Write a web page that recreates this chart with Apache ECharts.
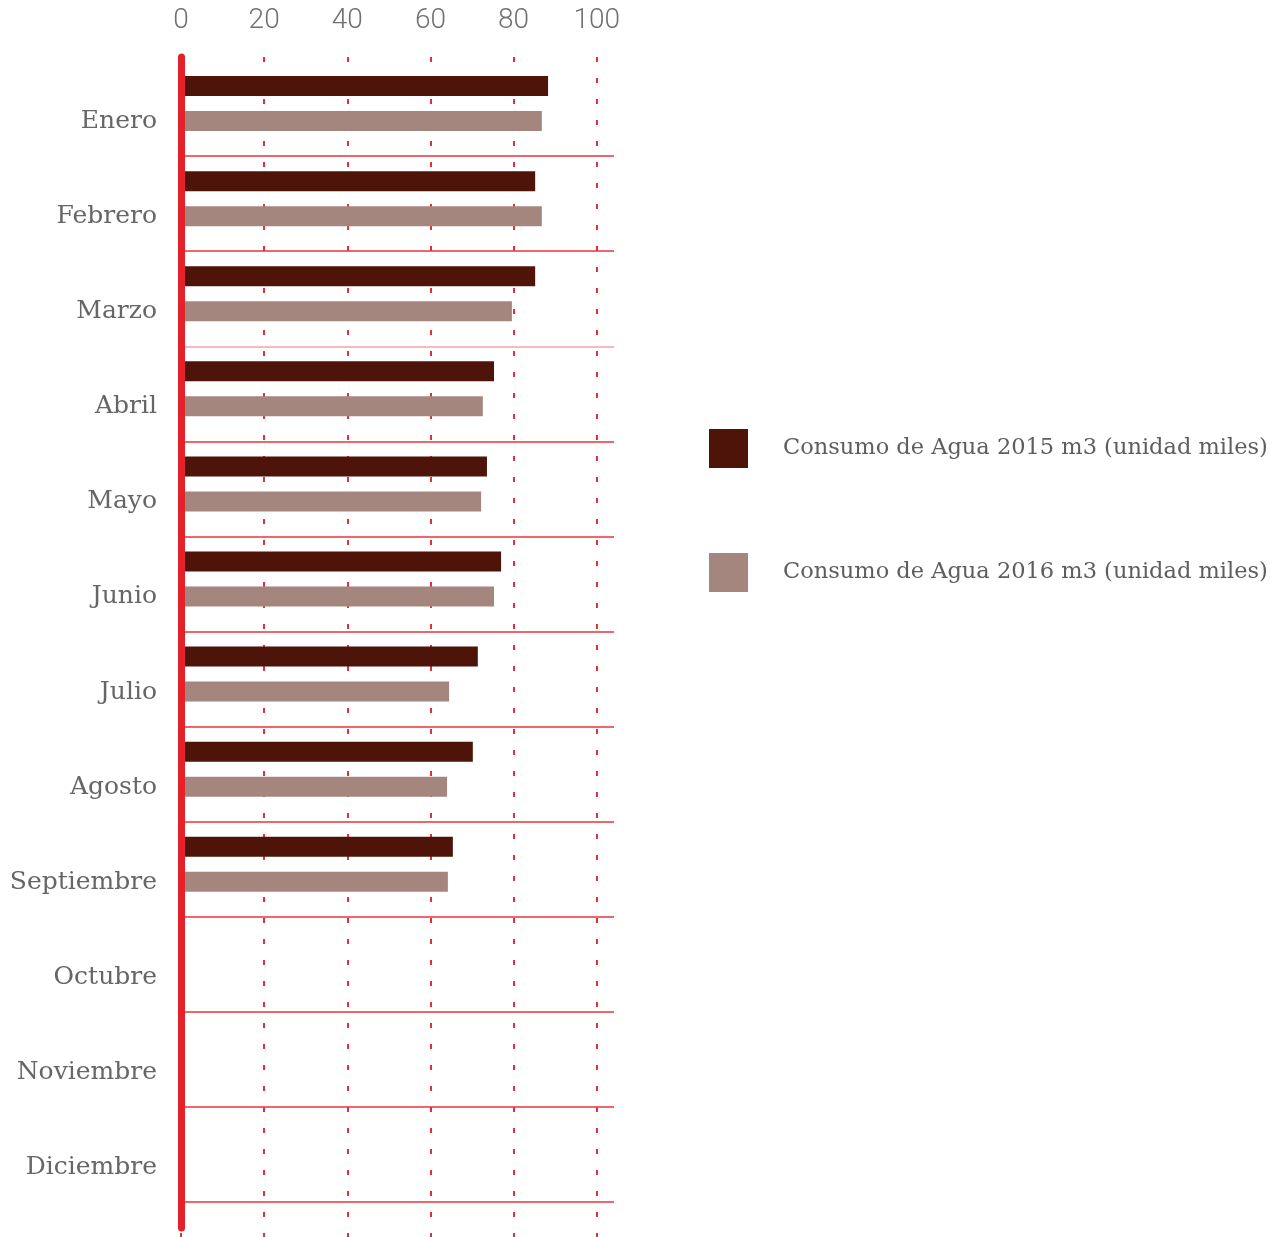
<!DOCTYPE html>
<html><head><meta charset="utf-8">
<script src="https://cdn.jsdelivr.net/npm/echarts@6/dist/echarts.min.js"></script>
<style>html,body{margin:0;padding:0;background:#fff}#c{width:1281px;height:1237px}</style>
</head><body><div id="c"></div>
<script>
const months = ['Enero','Febrero','Marzo','Abril','Mayo','Junio','Julio','Agosto','Septiembre','Octubre','Noviembre','Diciembre'];
const tickValues = [0, 20, 40, 60, 80, 100];
const consumo2015 = [88.3, 85.2, 85.2, 75.3, 73.6, 77.0, 71.4, 70.2, 65.4, null, null, null];
const consumo2016 = [86.8, 86.8, 79.6, 72.6, 72.2, 75.3, 64.5, 64.0, 64.2, null, null, null];
const seriesNames = ['Consumo de Agua 2015 m3 (unidad miles)', 'Consumo de Agua 2016 m3 (unidad miles)'];

const RED = '#e52229';
const LINE = '#e8343c';
const C2015 = '#4f1409';
const C2016 = '#a4867f';
const SERIF = '"DejaVu Serif", serif';
const SANS = 'Roboto, "Noto Sans", sans-serif';

const xMin = tickValues[0], xMax = tickValues[tickValues.length - 1], xStep = tickValues[1] - tickValues[0];
const plotW = 415.7;

const rowLineColors = ['rgba(0,0,0,0)', LINE, LINE, '#f3a2a6'].concat(new Array(months.length - 3).fill(LINE));

const chart = echarts.init(document.getElementById('c'), null, {renderer: 'canvas'});
chart.setOption({
  backgroundColor: '#fff',
  animation: false,
  legend: {
    orient: 'vertical', left: 709, top: 429, padding: 0,
    itemWidth: 39, itemHeight: 39, itemGap: 85,
    icon: 'rect',
    data: seriesNames,
    textStyle: {fontFamily: SERIF, fontSize: 22.5, color: '#5e5e5e', padding: [0, 0, 0, 30]}
  },
  grid: [
    {left: 181, top: 61, width: 433, height: 1141},
    {left: 181, top: 56, width: plotW, height: 1141},
    {left: 181, top: 57, width: plotW, height: 1180},
    {left: 181, top: 57, width: plotW, height: 1171},
    {left: 181, top: 74, width: plotW, height: 1141}
  ],
  xAxis: [
    {gridIndex: 0, type: 'value', min: xMin, max: xMax, show: false},
    {gridIndex: 1, type: 'value', min: xMin, max: xMax, interval: xStep, position: 'top',
     axisLine: {show: false}, axisTick: {show: false}, splitLine: {show: false},
     axisLabel: {show: true, margin: 35, verticalAlign: 'middle', fontFamily: SANS, fontWeight: 300, fontSize: 28, color: '#707070'}},
    {gridIndex: 2, type: 'value', min: xMin, max: xMax, interval: xStep,
     axisLine: {show: false}, axisTick: {show: false}, axisLabel: {show: false},
     splitLine: {show: true, lineStyle: {color: '#e0303a', width: 2, type: [5, 16]}}},
    {gridIndex: 3, type: 'value', min: xMin, max: xMax, show: false},
    {gridIndex: 4, type: 'value', min: xMin, max: xMax, show: false}
  ],
  yAxis: [
    {gridIndex: 0, type: 'category', inverse: true, data: months,
     axisLine: {show: false}, axisTick: {show: false}, axisLabel: {show: false},
     splitLine: {show: true, lineStyle: {color: rowLineColors, width: 1.5}}},
    {gridIndex: 1, type: 'category', inverse: true, data: months, show: false},
    {gridIndex: 2, type: 'value', show: false},
    {gridIndex: 3, type: 'value', z: 5,
     axisLine: {show: true, lineStyle: {color: RED, width: 7, cap: 'round'}},
     axisTick: {show: false}, axisLabel: {show: false}, splitLine: {show: false}},
    {gridIndex: 4, type: 'category', inverse: true, data: months,
     axisLine: {show: false}, axisTick: {show: false}, splitLine: {show: false},
     axisLabel: {margin: 24, fontFamily: SERIF, fontSize: 25, color: '#666666'}}
  ],
  series: [
    {name: seriesNames[0], type: 'bar', xAxisIndex: 1, yAxisIndex: 1, data: consumo2015,
     barWidth: 20, barGap: '75%', itemStyle: {color: C2015}, z: 2},
    {name: seriesNames[1], type: 'bar', xAxisIndex: 1, yAxisIndex: 1, data: consumo2016,
     barWidth: 20, barGap: '75%', itemStyle: {color: C2016}, z: 2}
  ]
});
</script></body></html>
